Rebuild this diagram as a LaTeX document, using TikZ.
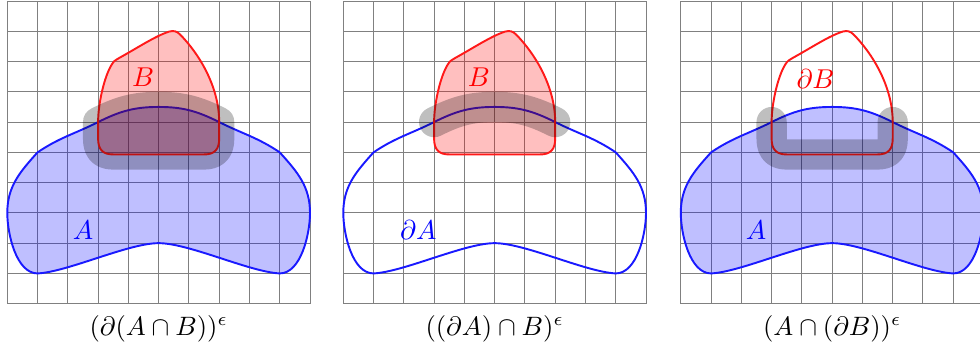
\documentclass[tikz,border=0pt]{standalone}
\tikzset{
  gridlines/.style={gray, line width=0.45pt},
  setA/.style={blue!90!white, line width=0.9pt},
  setB/.style={red!90!white, line width=0.9pt},
  fillA/.style={fill=blue, fill opacity=0.25},
  fillB/.style={fill=red, fill opacity=0.25},
  band/.style={black, opacity=0.25, line width=0.5cm, line cap=round, line join=round},
  lab/.style={inner sep=0pt, scale=1.28},
  captext/.style={inner sep=0pt, scale=1.25},
  Ashape/.style={insert path={(0,3) to[out=90,in=228] (1,5)
     to[out=34,in=206.57] (3,6)
     to[out=26.57,in=180] (5,6.5) to[out=0,in=153.43] (7,6)
     to[out=-26.57,in=146] (9,5)
     to[out=-48,in=90] (10,3) to[out=-90,in=0,looseness=0.8] (9,1)
     .. controls (8,1.05) and (6,2) .. (5,2)
     .. controls (4,2) and (2,1.05) .. (1,1)
     to[out=180,in=-90,looseness=0.8] (0,3) -- cycle}},
  Bshape/.style={insert path={(3,5.45) -- (3,6)
     .. controls (3,6.6) and (3.2,7.5) .. (3.45,7.9)
     .. controls (3.52,8.02) and (3.6,8.07) .. (3.7,8.12)
     .. controls (4.3,8.45) and (4.9,8.85) .. (5.35,8.99)
     .. controls (5.5,9.03) and (5.6,9.0) .. (5.7,8.9)
     .. controls (6.3,8.3) and (7,7.2) .. (7,6) -- (7,5.45)
     .. controls (7,5.1) and (6.85,4.93) .. (6.5,4.93) -- (3.5,4.93)
     .. controls (3.15,4.93) and (3,5.1) .. (3,5.45) -- cycle}},
  ABshape/.style={insert path={(3,6) to[out=26.57,in=180] (5,6.5)
     to[out=0,in=153.43] (7,6) -- (7,5.45)
     .. controls (7,5.1) and (6.85,4.93) .. (6.5,4.93) -- (3.5,4.93)
     .. controls (3.15,4.93) and (3,5.1) .. (3,5.45) -- cycle}},
  dAinB/.style={insert path={(3,6) to[out=26.57,in=180] (5,6.5)
     to[out=0,in=153.43] (7,6)}},
  dBinA/.style={insert path={(3,6) -- (3,5.45)
     .. controls (3,5.1) and (3.15,4.93) .. (3.5,4.93) -- (6.5,4.93)
     .. controls (6.85,4.93) and (7,5.1) .. (7,5.45) -- (7,6)}}
}
\begin{document}
\begin{tikzpicture}[x=0.5cm,y=0.5cm]
\useasboundingbox (-0.241,-1.464) rectangle (32.134,10.033);
% panel 1
\begin{scope}
  \draw[gridlines, step=0.5cm] (0,0) grid (10,10);
  \path[fillA, Ashape];
  \draw[setA, Ashape];
  \path[fillB, Bshape];
  \draw[setB, Bshape];
  \begin{scope}[transparency group, opacity=0.25]
    \filldraw[black, line width=0.5cm, line join=round, ABshape];
  \end{scope}
  \node[lab, blue] (labA1) at (2.5,2.42) {$A$};
  \node[lab, red] (labB1) at (4.49,7.47) {$B$};
  \node[captext] (cap1) at (5,-0.83) {$(\partial(A\cap B))^\epsilon$};
\end{scope}
% panel 2
\begin{scope}[shift={(11.10,0)}]
  \draw[gridlines, step=0.5cm] (0,0) grid (10,10);
  \draw[setA, Ashape];
  \path[fillB, Bshape];
  \draw[setB, Bshape];
  \draw[band, dAinB];
  \node[lab, blue] (labA2) at (2.48,2.42) {$\partial A$};
  \node[lab, red] (labB2) at (4.48,7.47) {$B$};
  \node[captext] (cap2) at (5,-0.83) {$((\partial A)\cap B)^\epsilon$};
\end{scope}
% panel 3
\begin{scope}[shift={(22.25,0)}]
  \draw[gridlines, step=0.5cm] (0,0) grid (10,10);
  \path[fillA, Ashape];
  \draw[setA, Ashape];
  \draw[setB, Bshape];
  \draw[band, dBinA];
  \node[lab, blue] (labA3) at (2.49,2.42) {$A$};
  \node[lab, red] (labB3) at (4.45,7.42) {$\partial B$};
  \node[captext] (cap3) at (5,-0.83) {$(A\cap(\partial B))^\epsilon$};
\end{scope}
\end{tikzpicture}
\end{document}
